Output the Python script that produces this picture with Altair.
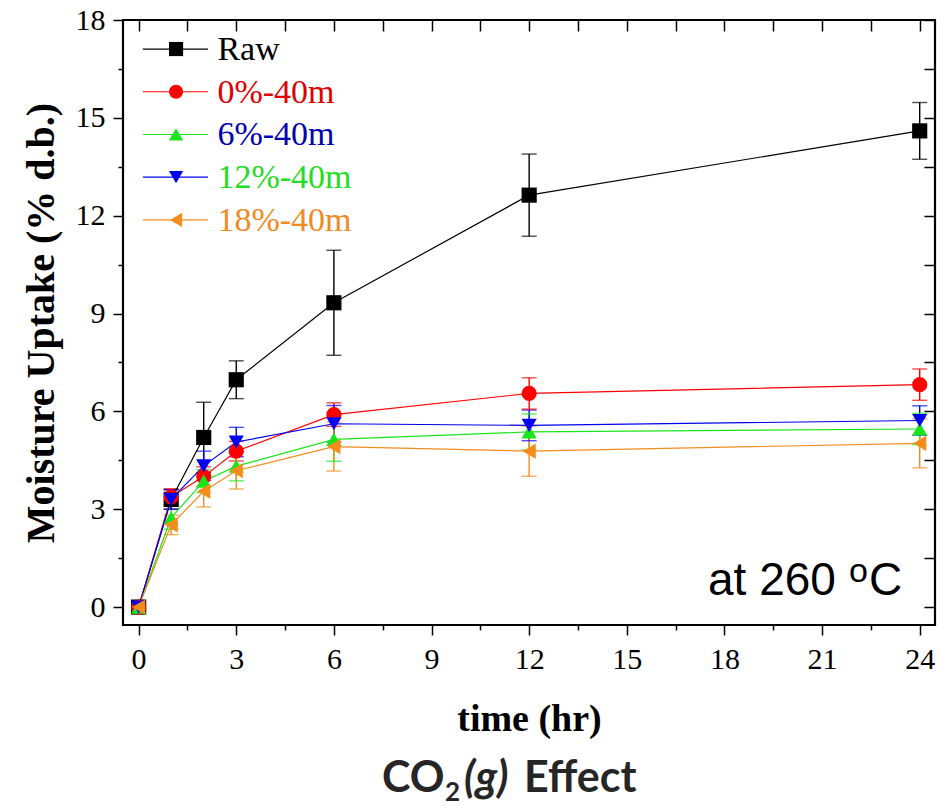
import altair as alt
import pandas as pd

# ---------------- data ----------------
times = [0, 1, 2, 3, 6, 12, 24]
series = ["Raw", "0%-40m", "6%-40m", "12%-40m", "18%-40m"]

raw_vals = [0.0, 3.30, 5.20, 6.97, 9.33, 12.63, 14.60]
raw_err = [0.05, 0.30, 1.08, 0.58, 1.61, 1.26, 0.87]
p0_vals = [0.0, 3.38, 4.00, 4.78, 5.90, 6.55, 6.82]
p0_err = [0.05, 0.25, 0.30, 0.30, 0.36, 0.48, 0.48]
p6_vals = [0.0, 2.74, 3.86, 4.32, 5.14, 5.37, 5.46]
p6_err = [0.05, 0.35, 0.35, 0.45, 0.67, 0.55, 0.48]
p12_vals = [0.0, 3.30, 4.33, 5.06, 5.62, 5.57, 5.72]
p12_err = [0.05, 0.30, 0.45, 0.45, 0.56, 0.47, 0.45]
p18_vals = [0.0, 2.52, 3.55, 4.18, 4.92, 4.78, 5.02]
p18_err = [0.05, 0.30, 0.48, 0.56, 0.75, 0.77, 0.75]

all_vals = [raw_vals, p0_vals, p6_vals, p12_vals, p18_vals]
all_errs = [raw_err, p0_err, p6_err, p12_err, p18_err]

colors = ["#000000", "#FF0000", "#19E619", "#0000F0", "#F58C1E"]
label_colors = ["#000000", "#E00000", "#0000B4", "#22DD22", "#F08A24"]
shapes = ["square", "circle", "triangle-up", "triangle-down", "triangle-left"]

x_ticks = [i * 1.5 for i in range(17)]
y_ticks = [i * 1.5 for i in range(13)]

x_title = "time (hr)"
y_title = "Moisture Uptake (% d.b.)"
note_main, note_sup, note_unit = "at 260", "o", "C"
cap_a, cap_sub, cap_g, cap_b = "CO", "2", "(g)", "Effect"

# ---------------- tables ----------------
rows = []
for k, (s, vals, errs) in enumerate(zip(series, all_vals, all_errs)):
    for t, v, e in zip(times, vals, errs):
        rows.append({"series": s, "k": k, "t": t, "v": v, "lo": v - e, "hi": v + e})
df = pd.DataFrame(rows)

leg_rows = []
for i, s in enumerate(series):
    leg_rows.append({"series": s, "ly": 17.11 - 1.31 * i, "x1": 0.13, "x2": 2.13,
                     "xs": 1.15, "xt": 2.42, "tc": label_colors[i]})
leg = pd.DataFrame(leg_rows)

x_scale = alt.Scale(domain=[-0.48, 24.47], nice=False, zero=False)
y_scale = alt.Scale(domain=[-0.55, 18], nice=False, zero=False)
c_scale = alt.Scale(domain=series, range=colors)
s_scale = alt.Scale(domain=series, range=shapes)

serif = "Liberation Serif, Times New Roman, serif"

x_axis = alt.Axis(
    orient="bottom", values=x_ticks,
    labelExpr="datum.value % 3 === 0 ? datum.label : ''",
    tickSize={"condition": {"test": "datum.value % 3 === 0", "value": 10}, "value": 5},
    tickWidth=1.5, tickColor="black", domain=False, grid=False,
    labelFont=serif, labelFontSize=30, labelColor="black", labelPadding=9,
    labelOverlap=False, labelFlush=False, labelBound=False,
    title=x_title, titleFont=serif, titleFontSize=38, titleFontWeight="bold",
    titleColor="black", titlePadding=26,
)
y_axis = alt.Axis(
    orient="left", values=y_ticks,
    labelExpr="datum.value % 3 === 0 ? datum.label : ''",
    tickSize={"condition": {"test": "datum.value % 3 === 0", "value": 10}, "value": 5},
    tickWidth=1.5, tickColor="black", domain=False, grid=False,
    labelFont=serif, labelFontSize=30, labelColor="black", labelPadding=8,
    labelOverlap=False, labelFlush=False, labelBound=False,
    title=y_title, titleFont=serif, titleFontSize=40, titleFontWeight="bold",
    titleColor="black", titlePadding=14,
)
top_axis = alt.Axis(orient="top", values=x_ticks, tickSize=11, offset=-11,
                    tickWidth=1.5, tickColor="black", labels=False, domain=False,
                    grid=False, title=None)
right_axis = alt.Axis(orient="right", values=y_ticks, tickSize=11, offset=-11,
                      tickWidth=1.5, tickColor="black", labels=False, domain=False,
                      grid=False, title=None)

base = alt.Chart(df)
col = alt.Color("series:N", scale=c_scale, legend=None)

lines = base.mark_line(strokeWidth=1.2).encode(
    x=alt.X("t:Q", scale=x_scale, axis=x_axis),
    y=alt.Y("v:Q", scale=y_scale, axis=y_axis),
    color=col, detail="series:N",
)
err = base.mark_rule(strokeWidth=1.4).encode(
    x=alt.X("t:Q", scale=x_scale, axis=None),
    y=alt.Y("lo:Q", scale=y_scale, axis=None), y2="hi:Q", color=col,
)
cap_hi = base.mark_tick(orient="horizontal", size=15, thickness=1.4).encode(
    x=alt.X("t:Q", scale=x_scale, axis=None),
    y=alt.Y("hi:Q", scale=y_scale, axis=None), color=col,
)
cap_lo = base.mark_tick(orient="horizontal", size=15, thickness=1.4).encode(
    x=alt.X("t:Q", scale=x_scale, axis=None),
    y=alt.Y("lo:Q", scale=y_scale, axis=None), color=col,
)
pts = base.mark_point(filled=True, size=230, opacity=1).encode(
    x=alt.X("t:Q", scale=x_scale, axis=None),
    y=alt.Y("v:Q", scale=y_scale, axis=None),
    color=col, shape=alt.Shape("series:N", scale=s_scale, legend=None),
    order=alt.Order("k:Q"),
)
frame_ticks = base.mark_point(opacity=0).encode(
    x=alt.X("t:Q", scale=x_scale, axis=top_axis),
    y=alt.Y("v:Q", scale=y_scale, axis=right_axis),
)

lb = alt.Chart(leg)
leg_line = lb.mark_rule(strokeWidth=1.2).encode(
    x=alt.X("x1:Q", scale=x_scale, axis=None), x2="x2:Q",
    y=alt.Y("ly:Q", scale=y_scale, axis=None), color=col,
)
leg_pt = lb.mark_point(filled=True, size=200, opacity=1).encode(
    x=alt.X("xs:Q", scale=x_scale, axis=None),
    y=alt.Y("ly:Q", scale=y_scale, axis=None),
    color=col, shape=alt.Shape("series:N", scale=s_scale, legend=None),
)
leg_txt = lb.mark_text(align="left", baseline="middle", font=serif, fontSize=34, dy=1).encode(
    x=alt.X("xt:Q", scale=x_scale, axis=None),
    y=alt.Y("ly:Q", scale=y_scale, axis=None),
    text="series:N", color=alt.Color("tc:N", scale=None),
)

one = alt.Chart(pd.DataFrame({"a": [0]}))
sans = "Liberation Sans, Arial, sans-serif"
n1 = one.mark_text(text=note_main, font=sans, fontSize=46, align="left",
                   baseline="alphabetic", color="black").encode(x=alt.value(585), y=alt.value(575))
n2 = one.mark_text(text=note_sup, font=sans, fontSize=34, align="left",
                   baseline="alphabetic", color="black").encode(x=alt.value(726), y=alt.value(562))
n3 = one.mark_text(text=note_unit, font=sans, fontSize=46, align="left",
                   baseline="alphabetic", color="black").encode(x=alt.value(746), y=alt.value(575))

cf = "Lato, Open Sans, sans-serif"
c1 = one.mark_text(text=cap_a, font=cf, fontSize=43, fontWeight="bold", align="left",
                   baseline="alphabetic", color="#262626").encode(x=alt.value(259), y=alt.value(772))
c2 = one.mark_text(text=cap_sub, font=cf, fontSize=26, fontWeight="bold", align="left",
                   baseline="alphabetic", color="#262626").encode(x=alt.value(322), y=alt.value(781))
c3 = one.mark_text(text=cap_g, font=cf, fontSize=43, fontWeight="bold", fontStyle="italic",
                   align="left", baseline="alphabetic", color="#262626").encode(x=alt.value(341), y=alt.value(772))
c4 = one.mark_text(text=cap_b, font=cf, fontSize=43, fontWeight="bold", align="left",
                   baseline="alphabetic", color="#262626").encode(x=alt.value(401), y=alt.value(772))

chart = alt.layer(
    err, cap_hi, cap_lo, lines, pts, frame_ticks,
    leg_line, leg_pt, leg_txt, n1, n2, n3, c1, c2, c3, c4,
).resolve_axis(x="independent", y="independent").properties(
    width=812, height=605,
    autosize=alt.AutoSizeParams(type="none"),
    padding={"left": 123, "top": 20, "right": 6, "bottom": 181},
    background="white",
).configure_view(stroke="black", strokeWidth=2.2)

chart.save("out.html", embed_options={"renderer": "svg", "actions": False})
